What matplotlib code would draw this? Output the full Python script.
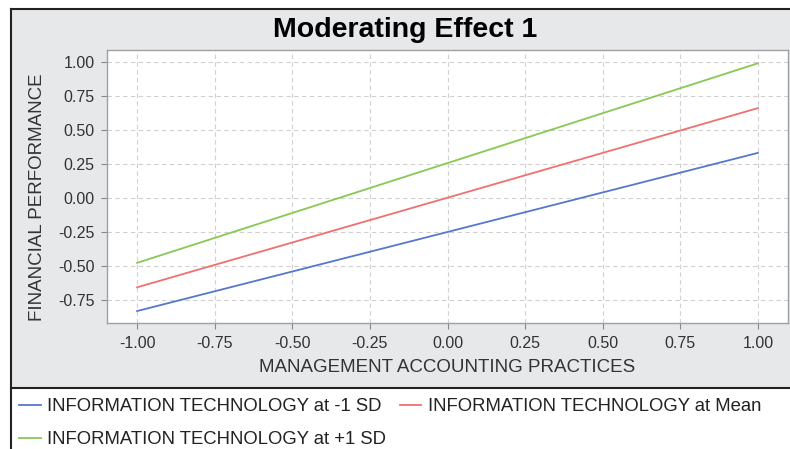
import numpy as np
import matplotlib
matplotlib.use('Agg')
import matplotlib.pyplot as plt
from matplotlib.patches import Rectangle

plt.rcParams['font.family'] = ['Liberation Sans', 'DejaVu Sans']

# data
x_vals = [-1.0, 1.0]
low_sd = [-0.835, 0.33]
mean_it = [-0.66, 0.66]
high_sd = [-0.48, 0.99]
labels = ["INFORMATION TECHNOLOGY at -1 SD",
          "INFORMATION TECHNOLOGY at Mean",
          "INFORMATION TECHNOLOGY at +1 SD"]
colors = ["#5577cc", "#f07070", "#88c855"]
ticks = [-1.0, -0.75, -0.5, -0.25, 0.0, 0.25, 0.5, 0.75, 1.0]
y_ticks = [-0.75, -0.5, -0.25, 0.0, 0.25, 0.5, 0.75, 1.0]

W, H = 790, 449
fig = plt.figure(figsize=(W / 100, H / 100), dpi=100)
fig.patch.set_facecolor('white')

# grey chart panel with black frame
fig.patches.append(Rectangle((11 / W, 1 - 388 / H), 1.0, (388 - 9) / H,
                             transform=fig.transFigure, facecolor='#e6e8ea',
                             edgecolor='none', zorder=-5))
for xs, ys in [([11 / W, 1], [1 - 9 / H, 1 - 9 / H]),
               ([11 / W, 1], [1 - 388 / H, 1 - 388 / H]),
               ([11 / W, 11 / W], [0, 1 - 9 / H])]:
    fig.add_artist(plt.Line2D(xs, ys, color='#222222', lw=1.5,
                              transform=fig.transFigure, zorder=-4))

ax = fig.add_axes([107 / W, 1 - 323 / H, (788 - 107) / W, (323 - 50) / H])
ax.set_zorder(1)
ax.set_facecolor('white')
series = [low_sd, mean_it, high_sd]
handles = []
for ys, c, lab in zip(series, colors, labels):
    h, = ax.plot(x_vals, ys, color=c, linewidth=1.3, label=lab)
    handles.append(h)

ax.set_xlim(-1.097, 1.097)
ax.set_ylim(-0.923, 1.088)
ax.set_xticks(ticks)
ax.set_yticks(y_ticks)
ax.set_xticklabels(['%.2f' % t for t in ticks])
ax.set_yticklabels(['%.2f' % t for t in y_ticks])
ax.tick_params(direction='out', length=4, width=0.8, colors='#888888',
               labelcolor='#333333', labelsize=11.5, pad=5)
ax.grid(True, linestyle=(0, (4, 3)), color='#d0d0d0', linewidth=0.8)
for s in ax.spines.values():
    s.set_color('#a0a0a0')
    s.set_linewidth(1.0)

ax.set_xlabel("MANAGEMENT ACCOUNTING PRACTICES", fontsize=13.5, color='#333333')
ax.set_ylabel("FINANCIAL PERFORMANCE", fontsize=13.5, color='#333333')
# label positions in axes fractions (measured from reference)
ax.xaxis.set_label_coords(0.5, -(367 - 323) / (323 - 50), transform=ax.transAxes)
ax.yaxis.set_label_coords(-(107 - 38) / (788 - 107), (323 - 197) / (323 - 50))
ax.xaxis.label.set_va('center')
ax.yaxis.label.set_va('center')

fig.text(405 / W, 1 - 37 / H, "Moderating Effect 1", ha='center', va='baseline',
         fontsize=20.5, fontweight='bold', color='black')

# row-major order: -1 SD, Mean on first row, +1 SD below
order = [0, 2, 1]
leg = fig.legend([handles[i] for i in order], [labels[i] for i in order],
                 loc='upper left', bbox_to_anchor=(12 / W, 1 - 391 / H), ncol=2,
                 frameon=False, fontsize=13.3, handlelength=1.15, handletextpad=0.35,
                 columnspacing=0.75, labelspacing=0.85, borderaxespad=0)
for t in leg.get_texts():
    t.set_color('#222222')

fig.savefig('out.png', dpi=100)
print("plot success!")
